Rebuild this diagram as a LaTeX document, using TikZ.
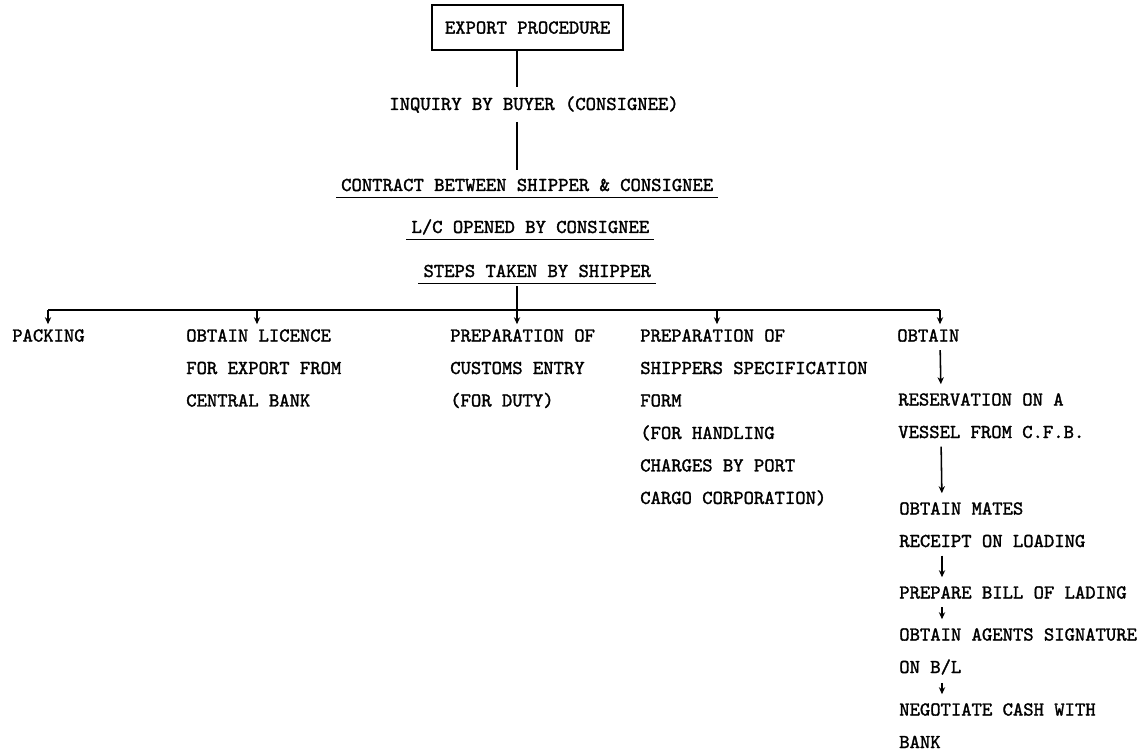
\documentclass[tikz,border=0pt]{standalone}
\usepackage{fontspec}
\setmonofont{lmmono10-regular.otf}[FakeBold=1.6]
\usetikzlibrary{arrows.meta}

\tikzset{
  wire/.style={line width=1.1pt},
  tip/.style={wire,-{Stealth[length=5pt,width=4.5pt]}},
  title/.style={draw,line width=1.1pt,font=\ttfamily\fontsize{14}{23.1}\selectfont,minimum width=4.775cm,minimum height=1.125cm},
  stage/.style={font=\ttfamily\fontsize{14}{23.1}\selectfont,inner xsep=0.12cm,inner ysep=0.22cm,anchor=base},
  item/.style={font=\ttfamily\fontsize{14}{23.1}\selectfont,align=left,inner sep=0pt,anchor=north west}
}

\begin{document}
\begin{tikzpicture}
  \useasboundingbox (0,0) rectangle (28.675,-18.8);
  \node[title] (title) at (13.19,-0.69) {EXPORT PROCEDURE};
  \node[stage] (inq) at (13.35,-2.75) {INQUIRY BY BUYER (CONSIGNEE)};
  \node[stage] (con) at (13.18,-4.775) {CONTRACT BETWEEN SHIPPER \& CONSIGNEE};
  \node[stage] (lc) at (13.26,-5.825) {L/C OPENED BY CONSIGNEE};
  \node[stage] (steps) at (13.43,-6.925) {STEPS TAKEN BY SHIPPER};
  \coordinate (fork) at (12.925,-7.75);

  \draw[wire] (title.south -| fork) -- (inq.north -| fork);
  \draw[wire] (inq.south -| fork) -- (con.north -| fork);
  \foreach \n in {con,lc,steps}
    \draw[wire] ([yshift=-0.16cm]\n.base west) -- ([yshift=-0.16cm]\n.base east);
  \draw[wire] (steps.south -| fork) -- (fork);

  \node[item] (pack) at (0.3,-8.225) {PACKING};
  \node[item] (lic) at (4.65,-8.225) {OBTAIN LICENCE\\FOR EXPORT FROM\\CENTRAL BANK};
  \node[item] (cus) at (11.25,-8.225) {PREPARATION OF\\CUSTOMS ENTRY\\(FOR DUTY)};
  \node[item] (shp) at (16,-8.225) {PREPARATION OF\\SHIPPERS SPECIFICATION\\FORM\\(FOR HANDLING\\CHARGES BY PORT\\CARGO CORPORATION)};
  \node[item] (obt) at (22.425,-8.225) {OBTAIN};
  \node[item] (res) at (22.45,-9.825) {RESERVATION ON A\\VESSEL FROM C.F.B.};
  \node[item] (mat) at (22.475,-12.55) {OBTAIN MATES\\RECEIPT ON LOADING};
  \node[item] (bol) at (22.475,-14.65) {PREPARE BILL OF LADING};
  \node[item] (sig) at (22.475,-15.7) {OBTAIN AGENTS SIGNATURE\\ON B/L};
  \node[item] (neg) at (22.475,-17.575) {NEGOTIATE CASH WITH\\BANK};

  \draw[wire] ([xshift=0.9cm]pack.north west |- fork) -- ([xshift=1.075cm]obt.north west |- fork);
  \foreach \n/\dx in {pack/0.9,lic/1.775,cus/1.675,shp/1.925,obt/1.075}
    \draw[tip,shorten >=0.12cm] ([xshift=\dx cm]\n.north west |- fork) -- ([xshift=\dx cm]\n.north west);
  \foreach \a/\b in {obt/res,res/mat,mat/bol,bol/sig,sig/neg}
    \draw[tip,shorten <=0.2cm,shorten >=0.22cm] ([xshift=1.075cm]\a.south west) -- ([xshift=1.075cm]\b.north west);
\end{tikzpicture}
\end{document}
